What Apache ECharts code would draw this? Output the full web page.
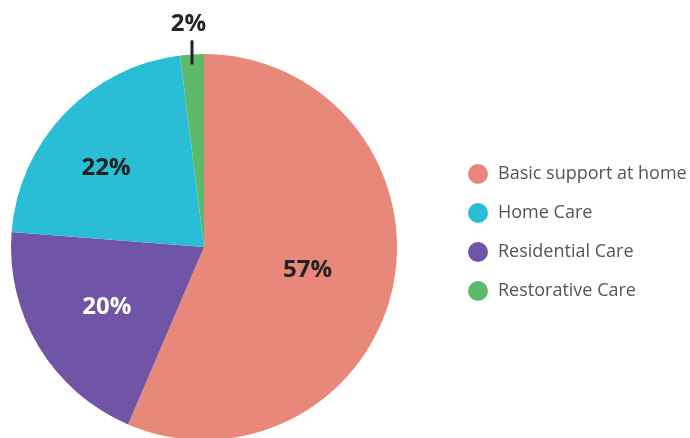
<!DOCTYPE html>
<html>
<head>
<meta charset="utf-8">
<script src="https://cdn.jsdelivr.net/npm/echarts@6/dist/echarts.min.js"></script>
<style>
  html, body { margin: 0; padding: 0; background: #ffffff; }
  #chart { width: 690px; height: 438px; }
</style>
</head>
<body>
<div id="chart"></div>
<script>
// Share of care types (per cent), drawn clockwise from 12 o'clock
const categories = ['Basic support at home', 'Residential Care', 'Home Care', 'Restorative Care'];
const shares = [57, 20, 22, 2];
const legendOrder = ['Basic support at home', 'Home Care', 'Residential Care', 'Restorative Care'];

const sliceColors = {
  'Basic support at home': '#E8887A',
  'Home Care': '#29BDD6',
  'Residential Care': '#7054A5',
  'Restorative Care': '#5EBA6A'
};
const labelColors = {
  'Basic support at home': '#222222',
  'Home Care': '#222222',
  'Residential Care': '#ffffff',
  'Restorative Care': '#222222'
};
// nudges for the inside labels
const labelOffsets = {
  'Basic support at home': [6, 3],
  'Home Care': [-26, -10],
  'Residential Care': [-12, 9]
};
// the small slice gets its value above the pie with a short vertical tick
const outsideName = 'Restorative Care';

const labelFont = { fontFamily: 'Open Sans', fontWeight: 'bold', fontSize: 24 };

const data = categories.map((name, i) => {
  const item = {
    name: name,
    value: shares[i],
    itemStyle: { color: sliceColors[name] }
  };
  if (name !== outsideName) {
    item.label = Object.assign({
      show: true,
      position: 'inside',
      color: labelColors[name],
      offset: labelOffsets[name]
    }, labelFont);
    item.labelLine = { show: false };
  } else {
    item.label = {
      show: true,
      position: 'outside',
      formatter: '{v|{c}%}\n{gap|}\n{bar|}',
      rich: {
        v: Object.assign({
          color: labelColors[name],
          lineHeight: 24,
          padding: [0, 7, 0, 0]
        }, labelFont),
        gap: { fontSize: 1, lineHeight: 4, height: 4 },
        bar: { width: 3, height: 24, backgroundColor: '#222222' }
      }
    };
    // kept only so the layout hands over the edge point at the slice's mid angle
    item.labelLine = {
      show: true,
      length: 10,
      length2: 0,
      lineStyle: { opacity: 0 }
    };
  }
  return item;
});

const outsideIndex = categories.indexOf(outsideName);

const chart = echarts.init(document.getElementById('chart'), null, { renderer: 'canvas' });

chart.setOption({
  animation: false,
  backgroundColor: '#ffffff',
  legend: {
    orient: 'vertical',
    left: 468,
    top: 164,
    padding: 0,
    data: legendOrder,
    icon: 'circle',
    itemWidth: 20,
    itemHeight: 20,
    itemGap: 19,
    selectedMode: false,
    textStyle: {
      fontFamily: 'Open Sans',
      fontSize: 18,
      lineHeight: 20,
      color: '#555555',
      padding: [0, 0, 0, 5]
    }
  },
  series: [{
    type: 'pie',
    center: [204, 247],
    radius: 193,
    startAngle: 90,
    clockwise: true,
    silent: true,
    data: data,
    label: { formatter: '{c}%' },
    labelLayout: function (params) {
      if (params.dataIndex !== outsideIndex || !params.labelLinePoints) return {};
      const edge = params.labelLinePoints[0];
      return {
        x: edge[0],
        y: edge[1] + 10,
        align: 'center',
        verticalAlign: 'bottom'
      };
    }
  }]
});
</script>
</body>
</html>
